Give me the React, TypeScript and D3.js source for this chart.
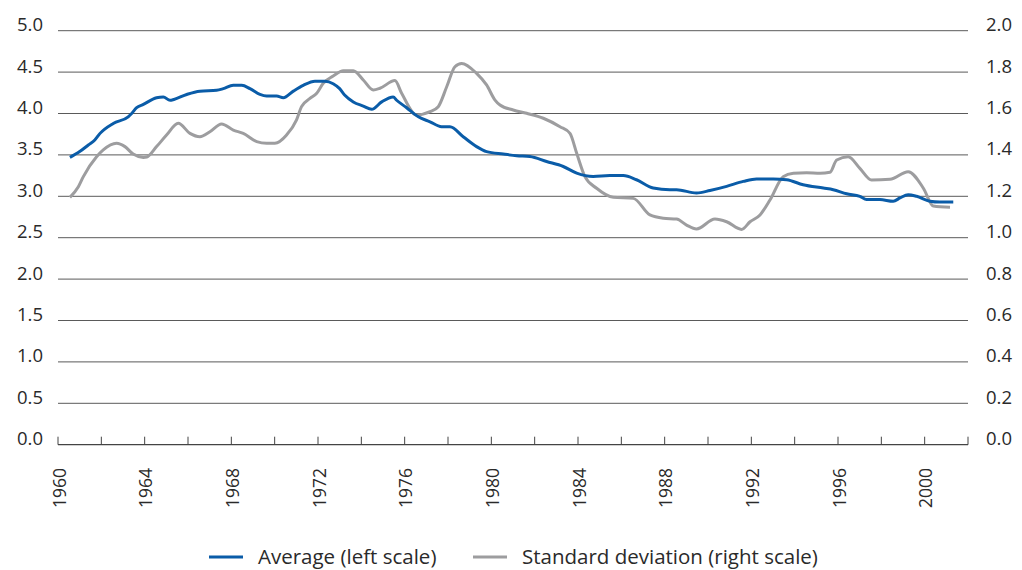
import React, { useEffect, useRef } from 'react'
import * as d3 from 'd3'

// Average (left scale)
const avgYears = [1960.55, 1961.0, 1961.4, 1961.7, 1961.94, 1962.55, 1963.24, 1963.4, 1963.63, 1963.94, 1964.55, 1964.86, 1965.17, 1965.35, 1965.94, 1966.55, 1967.32, 1967.63, 1968.09, 1968.48, 1968.86, 1969.32, 1969.63, 1970.09, 1970.4, 1970.86, 1971.32, 1971.86, 1972.32, 1972.7, 1973.0, 1973.24, 1973.63, 1974.09, 1974.48, 1974.94, 1975.47, 1975.63, 1976.09, 1976.63, 1977.17, 1977.7, 1978.09, 1978.7, 1979.32, 1979.78, 1980.55, 1981.17, 1981.78, 1982.55, 1983.32, 1983.94, 1984.7, 1985.47, 1986.09, 1986.7, 1987.47, 1988.24, 1988.55, 1989.47, 1990.09, 1990.86, 1991.63, 1992.24, 1993.01, 1993.63, 1994.39, 1995.32, 1995.78, 1996.4, 1997.01, 1997.32, 1997.93, 1998.55, 1998.86, 1999.24, 1999.63, 2000.24, 2000.7, 2001.32]
const avgValues = [3.47, 3.54, 3.62, 3.68, 3.76, 3.88, 3.96, 4.0, 4.07, 4.11, 4.19, 4.2, 4.16, 4.17, 4.23, 4.27, 4.28, 4.3, 4.34, 4.34, 4.3, 4.23, 4.21, 4.21, 4.19, 4.27, 4.34, 4.39, 4.39, 4.36, 4.3, 4.22, 4.14, 4.09, 4.05, 4.14, 4.2, 4.16, 4.07, 3.96, 3.9, 3.84, 3.84, 3.72, 3.6, 3.54, 3.51, 3.49, 3.48, 3.42, 3.36, 3.28, 3.24, 3.25, 3.25, 3.2, 3.1, 3.08, 3.08, 3.04, 3.07, 3.12, 3.18, 3.21, 3.21, 3.2, 3.14, 3.1, 3.08, 3.03, 3.0, 2.96, 2.96, 2.94, 2.98, 3.02, 3.0, 2.94, 2.93, 2.93]

// Standard deviation (right scale)
const sdYears = [1960.55, 1960.94, 1961.17, 1961.78, 1962.09, 1962.7, 1963.09, 1963.47, 1963.94, 1964.1, 1964.55, 1965.01, 1965.55, 1966.09, 1966.55, 1967.01, 1967.55, 1968.09, 1968.55, 1969.17, 1969.63, 1970.01, 1970.55, 1971.01, 1971.24, 1971.63, 1971.94, 1972.24, 1972.7, 1973.17, 1973.63, 1974.09, 1974.55, 1974.86, 1975.55, 1975.86, 1976.55, 1977.17, 1977.55, 1977.94, 1978.32, 1978.63, 1979.32, 1979.78, 1980.17, 1980.4, 1981.01, 1981.63, 1982.4, 1983.17, 1983.63, 1983.94, 1984.32, 1984.86, 1985.63, 1986.55, 1987.32, 1987.94, 1988.55, 1989.01, 1989.47, 1990.32, 1990.86, 1991.55, 1991.94, 1992.4, 1992.86, 1993.47, 1993.94, 1994.55, 1995.17, 1995.63, 1995.94, 1996.47, 1997.01, 1997.55, 1998.4, 1999.24, 1999.94, 2000.4, 2001.17]
const sdValues = [1.195, 1.246, 1.295, 1.391, 1.424, 1.456, 1.44, 1.404, 1.388, 1.39, 1.44, 1.496, 1.553, 1.504, 1.488, 1.512, 1.549, 1.52, 1.504, 1.464, 1.456, 1.456, 1.496, 1.569, 1.633, 1.673, 1.698, 1.746, 1.781, 1.807, 1.807, 1.762, 1.714, 1.722, 1.759, 1.698, 1.593, 1.609, 1.633, 1.729, 1.826, 1.842, 1.794, 1.738, 1.665, 1.641, 1.617, 1.601, 1.577, 1.536, 1.504, 1.408, 1.295, 1.239, 1.195, 1.19, 1.11, 1.094, 1.09, 1.061, 1.042, 1.09, 1.077, 1.04, 1.077, 1.11, 1.182, 1.295, 1.311, 1.314, 1.311, 1.316, 1.375, 1.391, 1.335, 1.279, 1.282, 1.319, 1.239, 1.153, 1.147]

const leftTicks = [0, 0.5, 1, 1.5, 2, 2.5, 3, 3.5, 4, 4.5, 5]
const rightTicks = [0, 0.2, 0.4, 0.6, 0.8, 1.0, 1.2, 1.4, 1.6, 1.8, 2.0]
const yearTicks = d3.range(1960, 2003, 2)
const yearLabels = d3.range(1960, 2001, 4)

const BLUE = '#0a5ca8'
const GREY = '#9d9d9f'
const FONT = '"Open Sans", "Noto Sans", sans-serif'

export default function App() {
  const svgRef = useRef<SVGSVGElement>(null)
  const width = 1022
  const height = 570

  useEffect(() => {
    if (!svgRef.current) return
    const svg = d3.select(svgRef.current)
    svg.selectAll('*').remove()

    const x0 = 58, x1 = 968
    const yTop = 30.7, yBot = 444.7

    const x = d3.scaleLinear().domain([1960, 2002]).range([x0, x1])
    const yL = d3.scaleLinear().domain([0, 5]).range([yBot, yTop])
    const yR = d3.scaleLinear().domain([0, 2]).range([yBot, yTop])

    // grid lines
    svg.append('g')
      .selectAll('line')
      .data(leftTicks.filter(d => d > 0))
      .join('line')
      .attr('x1', x0)
      .attr('x2', x1)
      .attr('y1', d => yL(d))
      .attr('y2', d => yL(d))
      .attr('stroke', '#5a5a5a')
      .attr('stroke-width', 1)

    // left labels
    svg.append('g')
      .selectAll('text')
      .data(leftTicks)
      .join('text')
      .attr('x', 43)
      .attr('y', d => yL(d) + 0.5)
      .attr('text-anchor', 'end')
      .style('font-family', FONT)
      .style('font-size', '18.5px')
      .attr('fill', '#2a2a2a')
      .text(d => d.toFixed(1))

    // right labels
    svg.append('g')
      .selectAll('text')
      .data(rightTicks)
      .join('text')
      .attr('x', 986)
      .attr('y', d => yR(d) + 0.5)
      .attr('text-anchor', 'start')
      .style('font-family', FONT)
      .style('font-size', '18.5px')
      .attr('fill', '#2a2a2a')
      .text(d => d.toFixed(1))

    // x axis
    const axis = svg.append('g')
    axis.append('line')
      .attr('x1', x0)
      .attr('x2', x1)
      .attr('y1', yBot)
      .attr('y2', yBot)
      .attr('stroke', '#444')
      .attr('stroke-width', 1.2)
    axis.selectAll('.tick')
      .data(yearTicks)
      .join('line')
      .attr('class', 'tick')
      .attr('x1', d => x(d))
      .attr('x2', d => x(d))
      .attr('y1', yBot)
      .attr('y2', yBot - 8)
      .attr('stroke', '#444')
      .attr('stroke-width', 1)
    axis.selectAll('.ylab')
      .data(yearLabels)
      .join('text')
      .attr('class', 'ylab')
      .attr('transform', d => `translate(${x(d) + 7.5},468) rotate(-90)`)
      .attr('text-anchor', 'end')
      .style('font-family', FONT)
      .style('font-size', '17.5px')
      .attr('fill', '#2a2a2a')
      .text(d => d)

    // lines
    const sdData = sdYears.map((yr, i) => [yr, sdValues[i]] as [number, number])
    const avgData = avgYears.map((yr, i) => [yr, avgValues[i]] as [number, number])

    svg.append('path')
      .datum(sdData)
      .attr('fill', 'none')
      .attr('stroke', GREY)
      .attr('stroke-width', 3)
      .attr('stroke-linejoin', 'round')
      .attr('d', d3.line<[number, number]>()
        .x(d => x(d[0]))
        .y(d => yR(d[1]))
        .curve(d3.curveMonotoneX))

    svg.append('path')
      .datum(avgData)
      .attr('fill', 'none')
      .attr('stroke', BLUE)
      .attr('stroke-width', 3)
      .attr('stroke-linejoin', 'round')
      .attr('d', d3.line<[number, number]>()
        .x(d => x(d[0]))
        .y(d => yL(d[1]))
        .curve(d3.curveMonotoneX))

    // legend
    const legend = svg.append('g')
    const items = [
      { label: 'Average (left scale)', color: BLUE, x: 209 },
      { label: 'Standard deviation (right scale)', color: GREY, x: 473 },
    ]
    items.forEach(it => {
      legend.append('line')
        .attr('x1', it.x)
        .attr('x2', it.x + 34)
        .attr('y1', 557)
        .attr('y2', 557)
        .attr('stroke', it.color)
        .attr('stroke-width', 3)
      legend.append('text')
        .attr('x', it.x + 49)
        .attr('y', 564)
        .style('font-family', FONT)
        .style('font-size', '20.5px')
        .attr('fill', '#2a2a2a')
        .text(it.label)
    })
  }, [])

  return (
    <svg
      ref={svgRef}
      width={width}
      height={height}
      style={{ position: 'absolute', left: 0, top: 0, background: '#fff' }}
    />
  )
}
